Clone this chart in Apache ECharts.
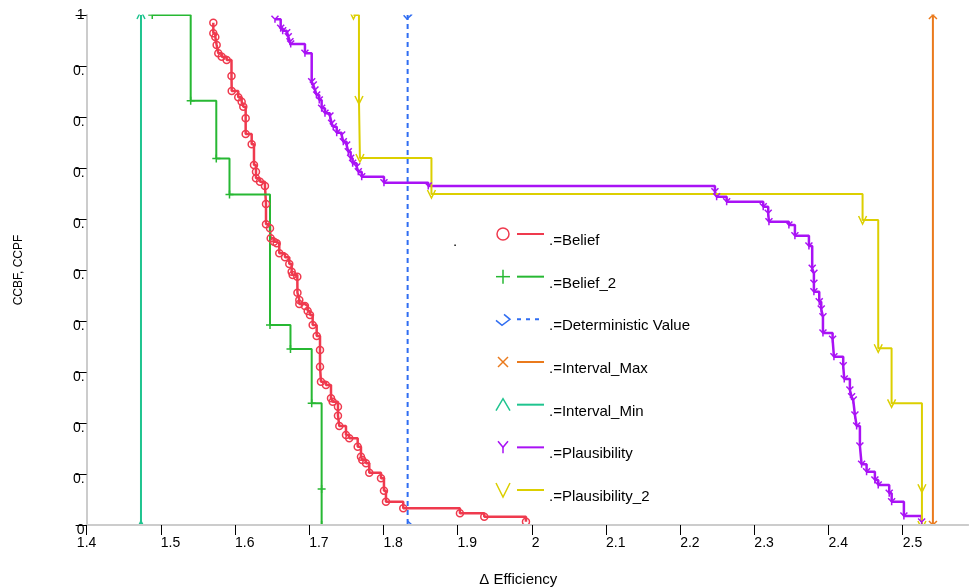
<!DOCTYPE html>
<html><head><meta charset="utf-8">
<script src="https://cdn.jsdelivr.net/npm/echarts@6/dist/echarts.min.js"></script>
<style>html,body{margin:0;padding:0;background:#fff}#c{width:970px;height:588px}</style>
</head><body><div id="c"></div>
<script>
// ---------- data ----------
const seriesNames = ['.=Belief', '.=Belief_2', '.=Deterministic Value', '.=Interval_Max', '.=Interval_Min', '.=Plausibility', '.=Plausibility_2'];

const beliefX = [1.5708,1.5708,1.5735,1.5753,1.5775,1.5821,1.5888,1.5953,1.5956,1.6044,1.6090,1.6112,1.6144,1.6144,1.6225,1.6256,1.6283,1.6283,1.6337,1.6404,1.6418,1.6418,1.6472,1.6481,1.6526,1.6562,1.6597,1.6674,1.6732,1.6764,1.6778,1.6840,1.6842,1.6867,1.6867,1.6943,1.6980,1.7011,1.7047,1.7101,1.7146,1.7146,1.7159,1.7226,1.7294,1.7317,1.7388,1.7388,1.7406,1.7496,1.7540,1.7654,1.7698,1.7716,1.7766,1.7810,1.7968,1.8008,1.8035,1.8268,1.9032,1.9360,1.9922];
const beliefY = [0.9849,0.9641,0.9569,0.9412,0.9249,0.9182,0.9118,0.8804,0.8510,0.8386,0.8300,0.8202,0.7975,0.7667,0.7465,0.7059,0.6927,0.6798,0.6731,0.6647,0.6294,0.5896,0.5818,0.5622,0.5555,0.5524,0.5327,0.5249,0.5118,0.4967,0.4902,0.4869,0.4555,0.4412,0.4333,0.4294,0.4196,0.4118,0.3922,0.3706,0.3431,0.3104,0.2810,0.2745,0.2484,0.2418,0.2320,0.2143,0.1941,0.1765,0.1700,0.1535,0.1339,0.1275,0.1210,0.1025,0.0916,0.0673,0.0457,0.0327,0.0229,0.0163,0.0065];

const belief2X = [1.4885,1.5403,1.5748,1.5926,1.6472,1.6748,1.7034,1.7168,1.7168];
const belief2Y = [1,0.832,0.7186,0.648,0.392,0.345,0.2386,0.0706,0];

const detX = [1.8327,1.8327];
const detY = [1,0];

const intMaxX = [2.5407,2.5407];
const intMaxY = [1,0];

const intMinX = [1.4733,1.4733];
const intMinY = [1,0];

const plausX = [1.6539,1.6616,1.6643,1.6697,1.6718,1.6741,1.6751,1.6943,1.7034,1.7055,1.7078,1.7101,1.7136,1.7168,1.7213,1.7280,1.7303,1.7325,1.7371,1.7438,1.7460,1.7505,1.7527,1.7559,1.7586,1.7640,1.7662,1.7708,1.8008,1.8605,2.2469,2.2492,2.2627,2.3120,2.3187,2.3197,2.3466,2.3547,2.3736,2.3780,2.3803,2.3803,2.3803,2.3875,2.3902,2.3925,2.3925,2.4055,2.4073,2.4198,2.4212,2.4288,2.4311,2.4333,2.4356,2.4379,2.4423,2.4446,2.4513,2.4625,2.4670,2.4818,2.4851,2.5016,2.5255];
const plausY = [0.9916,0.9739,0.9692,0.9653,0.9575,0.9476,0.9431,0.9249,0.8692,0.8627,0.8529,0.8431,0.8333,0.8171,0.8073,0.8020,0.7876,0.7810,0.7692,0.7647,0.7516,0.7451,0.7320,0.7190,0.7092,0.7025,0.6927,0.6829,0.6712,0.6647,0.6535,0.6437,0.6339,0.6241,0.6112,0.5947,0.5882,0.5673,0.5471,0.5033,0.4935,0.4739,0.4575,0.4378,0.4235,0.4084,0.3765,0.3641,0.3300,0.3122,0.2863,0.2647,0.2516,0.2451,0.2157,0.1941,0.1549,0.1190,0.1045,0.0882,0.0784,0.0622,0.0457,0.0176,0.0059];

const plaus2X = [1.7597,1.7671,1.7684,1.8648,2.4459,2.4670,2.4850,2.5259,2.5259];
const plaus2Y = [1,0.8333,0.7196,0.649,0.598,0.3465,0.2386,0.072,0];

const xTickValues = [1.4,1.5,1.6,1.7,1.8,1.9,2.0,2.1,2.2,2.3,2.4,2.5];
const xTickLabels = ['1.4','1.5','1.6','1.7','1.8','1.9','2','2.1','2.2','2.3','2.4','2.5'];
const yTickLabels = ['0','0.','0.','0.','0.','0.','0.','0.','0.','0.','1'];

const xName = 'Δ Efficiency';
const yName = 'CCBF, CCPF';

// ---------- styles ----------
const colors = ['#ef3a4e', '#27b833', '#2f6df2', '#ea7a1c', '#1fc48f', '#a912f5', '#dccf00'];
const lineWidths = [2.5, 2, 2, 2, 2, 2.5, 2];
const SYM = {
  circle: 'circle',
  plus: 'path://M0,5L10,5M5,0L5,10',
  cross: 'path://M0,0L10,10M10,0L0,10',
  caret: 'path://M0,10L5,0L10,10',
  ysym: 'path://M0,0L5,5L10,0M5,5L5,10',
  vsym: 'path://M0,0L5,10L10,0',
  det: 'path://M6,0L12,5L5,11L0,6'
};
const symKeys = ['circle','plus','det','cross','caret','ysym','vsym'];
const symSizes = [7, 8, 8, 8, 8, 7, 8];

function pairs(xs, ys) { return xs.map((x, i) => [x, ys[i]]); }

const dataSets = [
  [beliefX, beliefY, 'end'],
  [belief2X, belief2Y, 'end'],
  [detX, detY, false],
  [intMaxX, intMaxY, false],
  [intMinX, intMinY, false],
  [plausX, plausY, 'end'],
  [plaus2X, plaus2Y, 'end']
];

const series = dataSets.map((d, i) => ({
  name: seriesNames[i],
  type: 'line',
  data: pairs(d[0], d[1]),
  step: d[2],
  clip: false,
  symbol: SYM[symKeys[i]],
  symbolSize: symSizes[i],
  showSymbol: true,
  showAllSymbol: true,
  lineStyle: { color: colors[i], width: lineWidths[i], type: i === 2 ? [5, 4] : 'solid' },
  itemStyle: { color: 'rgba(255,255,255,0)', borderColor: colors[i], borderWidth: 1.5 },
  emphasis: { disabled: true },
  z: 2
}));

// ---------- legend built as graphics ----------
const legendShapes = {
  circle: null,
  plus: [[[-7,0],[7,0]], [[0,-7],[0,7]]],
  det: [[[1,-5],[7,0],[-1,6],[-7,1]]],
  cross: [[[-5,-5],[5,5]], [[5,-5],[-5,5]]],
  caret: [[[-7,6],[0,-6],[7,6]]],
  ysym: [[[-5,-6],[0,0],[5,-6]], [[0,0],[0,6]]],
  vsym: [[[-7,-7],[0,7],[7,-7]]]
};
const legendEls = [];
const lgX = 503, lgY0 = 234, lgStep = 42.67;
seriesNames.forEach((nm, i) => {
  const cy = lgY0 + i * lgStep;
  const key = symKeys[i];
  if (key === 'circle') {
    legendEls.push({ type: 'circle', z: 20, shape: { cx: lgX, cy: cy, r: 6 }, style: { fill: 'none', stroke: colors[i], lineWidth: 1.5 } });
  } else {
    legendShapes[key].forEach(pts => {
      legendEls.push({ type: 'polyline', z: 20, shape: { points: pts.map(p => [lgX + p[0], cy + p[1]]) }, style: { fill: 'none', stroke: colors[i], lineWidth: 1.5 } });
    });
  }
  legendEls.push({ type: 'line', z: 20, shape: { x1: 517, y1: cy, x2: 544, y2: cy }, style: { stroke: colors[i], lineWidth: 2, lineDash: i === 2 ? [4, 5] : null } });
  legendEls.push({ type: 'text', z: 20, x: 549, y: cy + 7, style: { text: nm, fill: '#000', font: '15px "Liberation Sans", Arial, sans-serif', verticalAlign: 'middle', align: 'left' } });
});
legendEls.push({ type: 'text', z: 20, x: 453, y: 242, style: { text: '.', fill: '#000', font: '15px "Liberation Sans", Arial, sans-serif', verticalAlign: 'middle' } });

// white masks outside the plot so end symbols look clipped
const masks = [
  { type: 'rect', z: 5, shape: { x: 87, y: 0, width: 883, height: 14.5 }, style: { fill: '#fff' } },
  { type: 'rect', z: 5, shape: { x: 87, y: 526, width: 883, height: 62 }, style: { fill: '#fff' } }
];

const FONT = '"Liberation Sans", Arial, sans-serif';
const axisLineStyle = { color: '#cccccc', width: 2 };

function xLabel(v) {
  const i = xTickValues.findIndex(t => Math.abs(t - v) < 1e-6);
  if (i < 0) return '';
  const s = xTickLabels[i];
  if (i === 0) return '{c|' + s + '}';
  return (s.length === 1 ? '{s|' : '{l|') + s + '}';
}
function yLabel(v) {
  const s = yTickLabels[Math.round(v * 10)];
  if (s === '1') return s;
  return '{d|' + s + '}';
}

const option = {
  animation: false,
  backgroundColor: '#fff',
  textStyle: { fontFamily: FONT },
  grid: { left: 86.6, right: 2, top: 15, bottom: 63, containLabel: false, outerBoundsMode: 'none' },
  xAxis: [{
    type: 'value', min: 1.4, max: 2.588, z: 10,
    name: xName, nameLocation: 'middle', nameGap: 47,
    nameTextStyle: { fontSize: 15, color: '#000', fontFamily: FONT, padding: [0, 18, 0, 0] },
    axisLine: { show: true, onZero: false, lineStyle: axisLineStyle },
    axisTick: { show: true, customValues: xTickValues, length: 10, lineStyle: { color: '#000', width: 1 } },
    axisLabel: {
      customValues: xTickValues, formatter: xLabel, margin: 11, color: '#000', fontSize: 14, fontFamily: FONT, align: 'center',
      rich: {
        c: { fontSize: 14, color: '#000', fontFamily: FONT },
        l: { fontSize: 14, color: '#000', fontFamily: FONT, padding: [0, 0, 0, 19.5] },
        s: { fontSize: 14, color: '#000', fontFamily: FONT, padding: [0, 0, 0, 7.8] }
      }
    },
    splitLine: { show: false }
  }, {
    type: 'value', min: 1.4, max: 2.588, position: 'top', z: 10,
    axisLine: { show: true, lineStyle: axisLineStyle },
    axisTick: { show: false }, axisLabel: { show: false }, splitLine: { show: false }
  }],
  yAxis: {
    type: 'value', min: 0, max: 1, interval: 0.1, z: 10,
    name: yName, nameLocation: 'middle', nameGap: 62, nameRotate: 90,
    nameTextStyle: { fontSize: 12, color: '#000', fontFamily: FONT },
    axisLine: { show: true, lineStyle: axisLineStyle },
    axisTick: { show: true, length: 11, lineStyle: { color: '#000', width: 1 } },
    axisLabel: {
      formatter: yLabel, margin: 2, color: '#000', fontSize: 14, fontFamily: FONT,
      rich: { d: { fontSize: 14, color: '#000', fontFamily: FONT, padding: [11, 0, 0, 0] } }
    },
    splitLine: { show: false }
  },
  graphic: { elements: masks.concat(legendEls) },
  series: series
};

const chart = echarts.init(document.getElementById('c'), null, { renderer: 'canvas' });
chart.setOption(option);
</script>
</body></html>
